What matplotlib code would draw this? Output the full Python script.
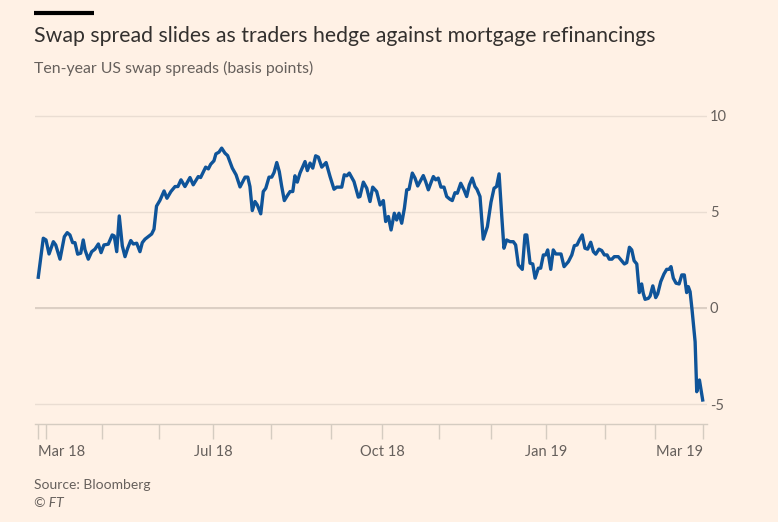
import matplotlib
matplotlib.use("Agg")
import matplotlib.pyplot as plt

# days since 1 Mar 2018 and ten-year swap spread (bp)
days = [-4.3, -1.5, 0, 1.7, 4.1, 5.4, 7.8, 10.2, 11.8, 13.3, 14.8, 16.1, 17.6, 19.3,
        20.7, 21.7, 23.5, 25.4, 27.2, 29.1, 30.6, 32.2, 34.6, 36.8, 37.9, 39.3, 40.7,
        42.4, 43.9, 45.4, 47.1, 48.5, 50.4, 52.2, 53.5, 55.0, 56.8, 58.7, 60.0, 61.4,
        63.3, 65.6, 67.2, 69.4, 71.7, 73.3, 75.0, 77.2, 80.0, 81.8, 84.6, 85.9, 88.7,
        90.2, 91.5, 93.3, 94.4, 96.1, 97.6, 99.4, 100.9, 103.5, 105.6, 107.8, 110.6,
        112.1, 113.3, 114.6, 116.1, 117.4, 119.3, 120.7, 122.1, 123.9, 125.4, 126.7,
        128.2, 129.6, 130.9, 132.4, 134.1, 135.6, 137.1, 138.3, 139.6, 141.1, 143.9,
        145.2, 146.7, 148.2, 149.8, 151.3, 153.2, 155.6, 157.8, 160.0, 161.5, 164.3,
        165.7, 167.1, 168.5, 171.1, 173.5, 174.4, 176.3, 178.2, 180.0, 181.5, 183.7,
        185.6, 187.4, 188.7, 190.2, 191.7, 193.5, 194.8, 196.1, 197.6, 199.1, 200.4,
        201.7, 203.5, 205.0, 206.5, 208.3, 209.6, 210.9, 212.4, 213.9, 215.2, 216.5,
        217.9, 219.4, 221.1, 222.6, 224.4, 225.7, 227.2, 228.5, 230.4, 232.2, 233.7,
        235.2, 236.8, 238.3, 239.4, 241.1, 242.9, 245.2, 247.2, 248.9, 250.3, 251.7,
        253.2, 254.4, 255.9, 257.8, 259.6, 260.9, 262.4, 264.6, 266.1, 267.1, 268.9,
        270.4, 271.7, 273.5, 274.8, 276.3, 277.6, 278.7, 280.4, 281.8, 283.2, 286.1,
        287.8, 290.2, 292.1, 293.5, 295.0, 296.3, 297.9, 299.4, 300.9, 302.6, 304.1,
        305.4, 307.2, 308.7, 310.2, 311.7, 312.9, 314.4, 315.7, 317.9, 319.4, 321.3,
        322.6, 324.1, 325.4, 326.7, 328.2, 329.6, 330.9, 331.8, 332.8, 334.6, 335.6,
        337.1, 338.7, 339.8, 341.5, 343.3, 344.8, 346.1, 347.2, 348.5, 350.0, 351.7,
        353.2, 354.6, 355.9, 356.8, 357.8, 358.9, 360.6, 361.5, 363.0, 364.8]
spread = [1.60, 3.63, 3.54, 2.81, 3.45, 3.28, 2.54, 3.71, 3.92, 3.80, 3.40, 3.40, 2.80, 2.85,
          3.54, 3.02, 2.54, 2.93, 3.06, 3.33, 2.88, 3.28, 3.32, 3.80, 3.75, 2.93, 4.79,
          3.23, 2.67, 3.11, 3.51, 3.33, 3.37, 2.93, 3.40, 3.58, 3.71, 3.85, 4.10, 5.30,
          5.60, 6.09, 5.71, 6.06, 6.32, 6.32, 6.67, 6.32, 6.79, 6.41, 6.84, 6.79, 7.33,
          7.24, 7.48, 7.66, 8.02, 8.11, 8.32, 8.06, 7.93, 7.28, 6.93, 6.30, 6.81,
          6.81, 6.32, 5.07, 5.54, 5.36, 4.90, 6.06, 6.23, 6.81, 6.81, 7.05,
          7.57, 7.10, 6.35, 5.59, 5.85, 6.06, 6.06, 6.88, 6.55, 7.02, 7.62,
          7.15, 7.54, 7.28, 7.92, 7.85, 7.33, 7.57, 6.84, 6.18, 6.29, 6.29,
          6.93, 6.88, 7.02, 6.58, 5.77, 5.80, 6.55, 6.23, 5.54, 6.29, 6.06,
          5.36, 5.59, 4.50, 4.76, 4.06, 4.93, 4.58, 4.93, 4.41, 5.19, 6.15,
          6.18, 7.02, 6.76, 6.35, 6.67, 6.89, 6.58, 6.15, 6.53, 6.84, 6.67,
          6.76, 6.29, 6.29, 5.80, 5.66, 5.59, 6.00, 5.97, 6.49, 6.15, 5.80,
          6.41, 6.76, 6.32, 6.18, 5.80, 3.58, 4.23, 5.50, 6.23, 6.32, 6.98,
          4.76, 3.11, 3.54, 3.45, 3.45, 3.28, 2.24, 2.01, 3.80, 3.80, 2.33,
          2.29, 1.55, 2.07, 2.07, 2.76, 2.76, 3.02, 2.01, 3.02, 2.81, 2.81,
          2.15, 2.41, 2.76, 3.24, 3.28, 3.54, 3.80, 3.11, 3.06, 3.42, 2.93,
          2.80, 3.06, 2.99, 2.76, 2.76, 2.54, 2.54, 2.67, 2.67, 2.50, 2.29,
          2.36, 3.16, 3.02, 2.46, 2.29, 0.80, 1.25, 0.76, 0.45, 0.50, 0.62,
          1.15, 0.54, 0.73, 1.37, 1.77, 2.01, 2.01, 2.15, 1.55, 1.29, 1.25,
          1.72, 1.72, 0.80, 1.11, 0.85, -0.10, -1.76, -4.36, -3.75, -4.79]

tick_days = [-4.6, 0, 31.1, 62.8, 92.8, 125.0, 158.3, 186.7, 218.3, 247.2, 277.8, 310.6, 338.3, 365.0]
tick_labels = ["Mar 18", "", "", "", "Jul 18", "", "", "Oct 18", "", "", "Jan 19", "", "", "Mar 19"]
y_ticks = [-5, 0, 5, 10]

bg = "#FFF1E5"
grey = "#66605C"
plt.rcParams["font.family"] = ["Lato", "DejaVu Sans"]

fig = plt.figure(figsize=(7.78, 5.22), dpi=100, facecolor=bg)
ax = fig.add_axes([35 / 778, 1 - 424 / 522, (707 - 35) / 778, (424 - 112) / 522])
ax.set_facecolor(bg)

ax.plot(days, spread, color="#0F5499", linewidth=2.4, solid_joinstyle="round", zorder=3)

ax.set_xlim(-6.1, 367.2)
ax.set_ylim(-6.04, 10.2)

ax.set_yticks(y_ticks)
ax.set_yticklabels([str(v) for v in y_ticks])
ax.yaxis.tick_right()
ax.tick_params(axis="y", length=0, pad=2, labelsize=10.5, labelcolor=grey)
ax.grid(axis="y", color="#EADDD2", linewidth=1)
ax.axhline(0, color="#DCCFC4", linewidth=1.4, zorder=2)

ax.set_xticks(tick_days)
ax.set_xticklabels(tick_labels)
ax.tick_params(axis="x", length=11, width=1, color="#D5CCC1", pad=4,
               labelsize=10.5, labelcolor=grey)
labels = ax.get_xticklabels()
labels[0].set_ha("left")
labels[-1].set_ha("right")

for side in ["top", "left", "right"]:
    ax.spines[side].set_visible(False)
ax.spines["bottom"].set_color("#D5CCC1")
ax.spines["bottom"].set_linewidth(1)

# header
fig.add_artist(plt.Line2D([34 / 778, 94 / 778], [1 - 13 / 522, 1 - 13 / 522],
                          color="black", linewidth=3, solid_capstyle="butt"))
fig.text(34 / 778, 1 - 36 / 522, "Swap spread slides as traders hedge against mortgage refinancings",
         fontsize=15.3, color="#33302E", va="center")
fig.text(34 / 778, 1 - 68 / 522, "Ten-year US swap spreads (basis points)",
         fontsize=11.4, color=grey, va="center")

# footer
fig.text(34 / 778, 1 - 485 / 522, "Source: Bloomberg", fontsize=10, color=grey, va="center")
fig.text(34 / 778, 1 - 503 / 522, "\u00a9 FT", fontsize=10, color=grey, va="center", style="italic")

fig.savefig("out.png", dpi=100, facecolor=bg)
